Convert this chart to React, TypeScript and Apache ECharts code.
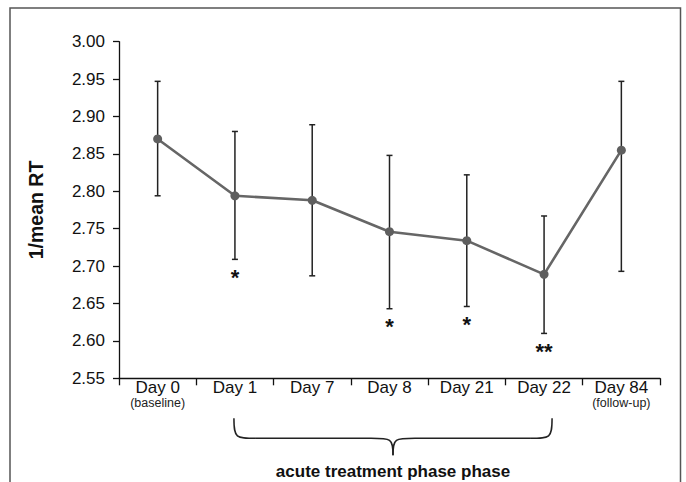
import React, { useEffect, useRef } from "react";
import * as echarts from "echarts";

const categories = ["Day 0", "Day 1", "Day 7", "Day 8", "Day 21", "Day 22", "Day 84"];
const subLabels = ["(baseline)", "", "", "", "", "", "(follow-up)"];
const meanValues = [2.870, 2.794, 2.788, 2.746, 2.734, 2.689, 2.855];
const upperValues = [2.947, 2.880, 2.889, 2.848, 2.822, 2.767, 2.947];
const lowerValues = [2.794, 2.709, 2.687, 2.643, 2.646, 2.610, 2.693];
const significance = ["", "*", "", "*", "*", "**", ""];
const yTicks = { min: 2.55, max: 3.0, interval: 0.05 };
const yAxisTitle = "1/mean RT";
const phaseTitle = "acute treatment phase phase";
const phaseRange = [1, 5];

const FONT = "Arial, 'Liberation Sans', sans-serif";

export default function App() {
  const ref = useRef<HTMLDivElement>(null);
  useEffect(() => {
    if (!ref.current) return;
    const chart = echarts.init(ref.current, null, { renderer: "svg" });
    const errData = categories.map((_, i) => [i, lowerValues[i], upperValues[i]]);
    chart.setOption({
      animation: false,
      textStyle: { fontFamily: FONT },
      grid: { left: 119, right: 26, top: 41.7, bottom: 103.7 },
      xAxis: {
        type: "category",
        data: categories,
        boundaryGap: true,
        axisLine: { show: true, lineStyle: { color: "#111", width: 1.3 } },
        axisTick: { show: true, length: 7, lineStyle: { color: "#111", width: 1.3 } },
        axisLabel: {
          margin: 0,
          interval: 0,
          formatter: (v: string, idx: number) =>
            subLabels[idx] ? `{a|${v}}\n{b|${subLabels[idx]}}` : `{a|${v}}`,
          rich: {
            a: { fontSize: 17, color: "#111", fontFamily: FONT, lineHeight: 18 },
            b: { fontSize: 12.5, color: "#222", fontFamily: FONT, lineHeight: 14 },
          },
          verticalAlign: "top",
        },
      },
      yAxis: {
        type: "value",
        min: yTicks.min,
        max: yTicks.max,
        interval: yTicks.interval,
        name: yAxisTitle,
        nameLocation: "middle",
        nameGap: 73,
        nameTextStyle: { fontSize: 19.5, fontWeight: "bold", color: "#111", fontFamily: FONT },
        splitLine: { show: false },
        axisLine: { show: true, lineStyle: { color: "#111", width: 1.3 } },
        axisTick: { show: true, length: 6, lineStyle: { color: "#111", width: 1.3 } },
        axisLabel: {
          margin: 14,
          fontSize: 17,
          color: "#111",
          fontFamily: FONT,
          formatter: (v: number) => v.toFixed(2),
        },
      },
      series: [
        {
          type: "custom",
          z: 1,
          data: errData,
          renderItem: (params: any, api: any) => {
            const i = api.value(0);
            const lo = api.coord([i, api.value(1)]);
            const hi = api.coord([i, api.value(2)]);
            const cap = 3;
            const style = { stroke: "#222", lineWidth: 1.5 };
            const children: any[] = [
              { type: "line", shape: { x1: lo[0], y1: lo[1], x2: hi[0], y2: hi[1] }, style },
              { type: "line", shape: { x1: hi[0] - cap, y1: hi[1], x2: hi[0] + cap, y2: hi[1] }, style },
              { type: "line", shape: { x1: lo[0] - cap, y1: lo[1], x2: lo[0] + cap, y2: lo[1] }, style },
            ];
            const sig = significance[params.dataIndex];
            if (sig) {
              children.push({
                type: "text",
                x: lo[0],
                y: lo[1] + 7,
                style: {
                  text: sig,
                  fontSize: 22,
                  fontWeight: "bold",
                  fontFamily: FONT,
                  fill: "#111",
                  align: "center",
                  verticalAlign: "top",
                },
              });
            }
            return { type: "group", children };
          },
        },
        {
          type: "line",
          z: 3,
          data: meanValues,
          symbol: "circle",
          symbolSize: 9,
          lineStyle: { color: "#666", width: 2.6 },
          itemStyle: { color: "#5f5f5f" },
        },
      ],
    });

    const base = chart.convertToPixel({ gridIndex: 0 }, [phaseRange[0], yTicks.min]) as number[];
    const end = chart.convertToPixel({ gridIndex: 0 }, [phaseRange[1], yTicks.min]) as number[];
    const xl = base[0] - 1;
    const xr = end[0] + 8;
    const xm = (xl + xr) / 2;
    const y0 = base[1];
    const yTop = y0 + 40;
    const yMid = y0 + 60;
    const yTip = y0 + 77;
    const r = 22;
    const bs = { stroke: "#222", lineWidth: 1.5, fill: "none" };
    chart.setOption({
      graphic: [
        {
          type: "rect",
          shape: { x: 10, y: 8, width: 670.5, height: 520 },
          style: { fill: "none", stroke: "#555", lineWidth: 1.5 },
          silent: true,
        },
        {
          type: "bezierCurve",
          shape: { x1: xl, y1: yTop, cpx1: xl, cpy1: yMid, cpx2: xl + 2, cpy2: yMid, x2: xl + r, y2: yMid },
          style: bs,
        },
        { type: "line", shape: { x1: xl + r, y1: yMid, x2: xm - r, y2: yMid }, style: bs },
        {
          type: "bezierCurve",
          shape: { x1: xm - r, y1: yMid, cpx1: xm - 2, cpy1: yMid, cpx2: xm, cpy2: yMid, x2: xm, y2: yTip },
          style: bs,
        },
        {
          type: "bezierCurve",
          shape: { x1: xm + r, y1: yMid, cpx1: xm + 2, cpy1: yMid, cpx2: xm, cpy2: yMid, x2: xm, y2: yTip },
          style: bs,
        },
        { type: "line", shape: { x1: xm + r, y1: yMid, x2: xr - r, y2: yMid }, style: bs },
        {
          type: "bezierCurve",
          shape: { x1: xr, y1: yTop, cpx1: xr, cpy1: yMid, cpx2: xr - 2, cpy2: yMid, x2: xr - r, y2: yMid },
          style: bs,
        },
        {
          type: "text",
          x: xm,
          y: y0 + 93,
          style: {
            text: phaseTitle,
            fontSize: 17,
            fontWeight: "bold",
            fontFamily: FONT,
            fill: "#111",
            align: "center",
            verticalAlign: "middle",
          },
        },
      ],
    });
    return () => chart.dispose();
  }, []);
  return (
    <div
      ref={ref}
      style={{ position: "fixed", left: 0, top: 0, width: 686, height: 482, background: "#fff" }}
    />
  );
}
